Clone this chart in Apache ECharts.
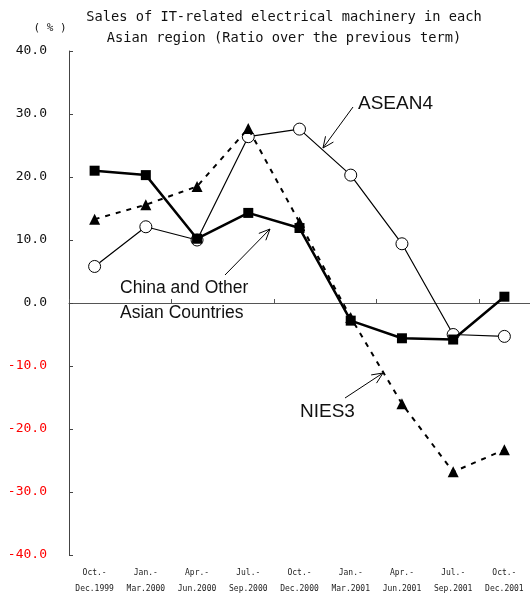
<!DOCTYPE html>
<html>
<head>
<meta charset="utf-8">
<script src="https://cdn.jsdelivr.net/npm/echarts@6/dist/echarts.min.js"></script>
<style>html,body{margin:0;padding:0;background:#fff}#c{width:530px;height:597px}</style>
</head>
<body>
<div id="c"></div>
<script>
const periodTop = ['Oct.-','Jan.-','Apr.-','Jul.-','Oct.-','Jan.-','Apr.-','Jul.-','Oct.-'];
const periodBottom = ['Dec.1999','Mar.2000','Jun.2000','Sep.2000','Dec.2000','Mar.2001','Jun.2001','Sep.2001','Dec.2001'];
const chinaOther = [21.0, 20.3, 10.2, 14.3, 11.9, -2.8, -5.6, -5.8, 1.0];
const asean4 = [5.8, 12.1, 10.0, 26.4, 27.6, 20.3, 9.4, -5.0, -5.3];
const nies3 = [13.3, 15.6, 18.5, 27.7, 12.8, -2.3, -16.0, -26.8, -23.3];
const yTicks = [-40, -30, -20, -10, 0, 10, 20, 30, 40];

const categories = periodTop.map((t, i) => t + '\n' + periodBottom[i]);

const chart = echarts.init(document.getElementById('c'));

function arrow(x1, y1, x2, y2) {
  const ang = Math.atan2(y2 - y1, x2 - x1);
  const L = 12, a = 0.42;
  const p1 = [x2 - L * Math.cos(ang - a), y2 - L * Math.sin(ang - a)];
  const p2 = [x2 - L * Math.cos(ang + a), y2 - L * Math.sin(ang + a)];
  return [
    { type: 'line', shape: { x1, y1, x2, y2 }, style: { stroke: '#000', lineWidth: 1 } },
    { type: 'polyline', shape: { points: [p1, [x2, y2], p2] }, style: { stroke: '#000', lineWidth: 1, fill: null } }
  ];
}

const annFont = '"Liberation Sans", Arial, sans-serif';
const monoFont = '"DejaVu Sans Mono", monospace';

chart.setOption({
  animation: false,
  backgroundColor: '#fff',
  grid: { left: 69, top: 51, bottom: 39, width: 463, containLabel: false },
  xAxis: [
    {
      type: 'category',
      data: categories,
      boundaryGap: true,
      axisLine: { onZero: true, lineStyle: { color: '#555', width: 1 } },
      axisTick: { show: true, inside: true, length: 4, lineStyle: { color: '#555' } },
      axisLabel: { show: false },
      splitLine: { show: false }
    },
    {
      type: 'category',
      data: categories,
      position: 'bottom',
      boundaryGap: true,
      axisLine: { show: false, onZero: false },
      axisTick: { show: false },
      axisLabel: { show: true, margin: 10, fontSize: 8, lineHeight: 16, color: '#222', fontFamily: monoFont },
      splitLine: { show: false }
    }
  ],
  yAxis: {
    type: 'value',
    min: yTicks[0],
    max: yTicks[yTicks.length - 1],
    interval: 10,
    axisLine: { show: true, lineStyle: { color: '#444', width: 1 } },
    axisTick: { show: true, inside: true, length: 4, lineStyle: { color: '#444' } },
    splitLine: { show: false },
    axisLabel: {
      margin: 22,
      fontSize: 13,
      fontFamily: monoFont,
      formatter: v => v.toFixed(1),
      color: v => (Number(v) < 0 ? '#ff0000' : '#111')
    }
  },
  series: [
    {
      name: 'ASEAN4', type: 'line', data: asean4, xAxisIndex: 0,
      symbol: 'circle', symbolSize: 12,
      itemStyle: { color: '#fff', borderColor: '#000', borderWidth: 1 },
      lineStyle: { color: '#000', width: 1.2 },
      z: 2
    },
    {
      name: 'NIES3', type: 'line', data: nies3, xAxisIndex: 0,
      symbol: 'triangle', symbolSize: 11,
      itemStyle: { color: '#000', borderWidth: 0 },
      lineStyle: { color: '#000', width: 2, type: [5, 6] },
      z: 3
    },
    {
      name: 'China and Other Asian Countries', type: 'line', data: chinaOther, xAxisIndex: 0,
      symbol: 'rect', symbolSize: 10,
      itemStyle: { color: '#000', borderWidth: 0 },
      lineStyle: { color: '#000', width: 2.5 },
      z: 4
    }
  ],
  graphic: [
    { type: 'text', x: 284, y: 17, style: { text: 'Sales of IT-related electrical machinery in each', font: '13.7px ' + monoFont, fill: '#111', align: 'center', verticalAlign: 'middle' } },
    { type: 'text', x: 284, y: 38, style: { text: 'Asian region (Ratio over the previous term)', font: '13.7px ' + monoFont, fill: '#111', align: 'center', verticalAlign: 'middle' } },
    { type: 'text', x: 50, y: 28, style: { text: '( % )', font: '11px ' + monoFont, fill: '#111', align: 'center', verticalAlign: 'middle' } },
    { type: 'text', x: 358, y: 104, style: { text: 'ASEAN4', font: '19px ' + annFont, fill: '#111', align: 'left', verticalAlign: 'middle' } },
    { type: 'text', x: 120, y: 288, style: { text: 'China and Other', font: '17.5px ' + annFont, fill: '#111', align: 'left', verticalAlign: 'middle' } },
    { type: 'text', x: 120, y: 313, style: { text: 'Asian Countries', font: '17.5px ' + annFont, fill: '#111', align: 'left', verticalAlign: 'middle' } },
    { type: 'text', x: 300, y: 412, style: { text: 'NIES3', font: '19px ' + annFont, fill: '#111', align: 'left', verticalAlign: 'middle' } },
    ...arrow(353, 107, 323, 148),
    ...arrow(225, 275, 270, 229),
    ...arrow(345, 398, 383, 373)
  ]
});
</script>
</body>
</html>
